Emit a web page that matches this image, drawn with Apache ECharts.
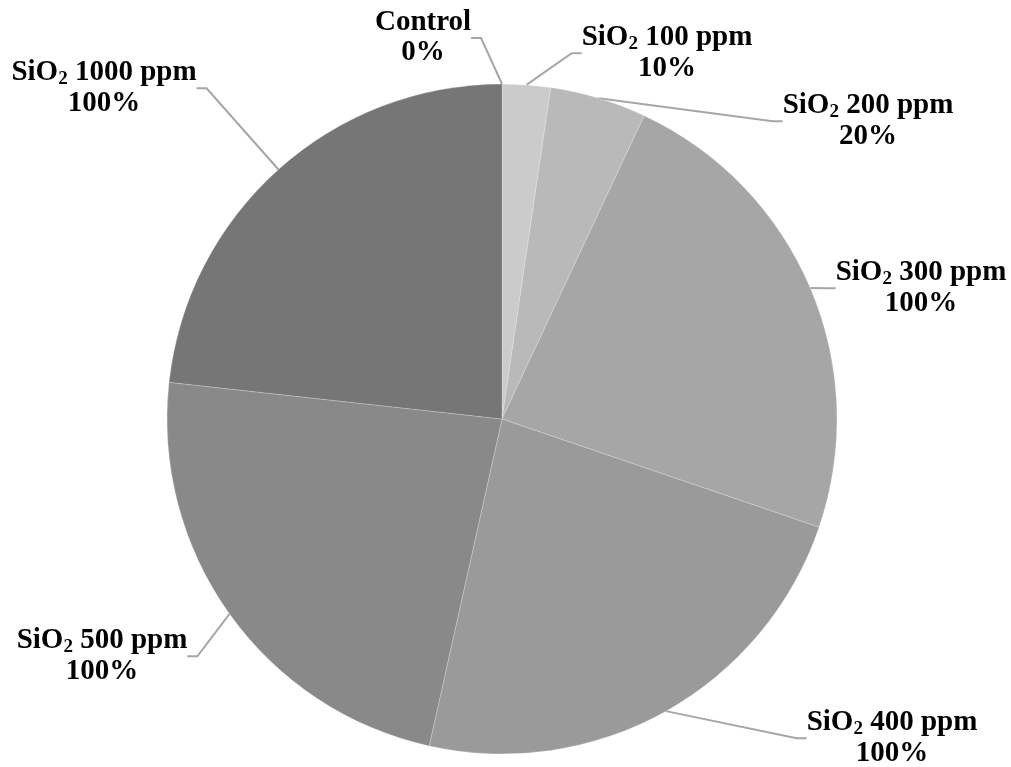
<!DOCTYPE html>
<html>
<head>
<meta charset="utf-8">
<style>
  html, body { margin: 0; padding: 0; background: #fff; }
  #chart { width: 1011px; height: 767px; }
</style>
<script src="https://cdn.jsdelivr.net/npm/echarts@6/dist/echarts.min.js"></script>
</head>
<body>
<div id="chart"></div>
<script>
// Treatments and their share (percent) shown on each slice
const labels = ['Control', 'SiO2 100 ppm', 'SiO2 200 ppm', 'SiO2 300 ppm', 'SiO2 400 ppm', 'SiO2 500 ppm', 'SiO2 1000 ppm'];
const values = [0, 10, 20, 100, 100, 100, 100];
const colors = ['#d9d9d9', '#cbcbcb', '#b9b9b9', '#a6a6a6', '#9a9a9a', '#898989', '#767676'];

// Label block centres (label placement only)
const labelPos = [
  [423, 38], [667, 53], [868, 121], [921, 288], [892, 738], [102, 656], [104, 88]
];

function richName(name) {
  if (name.indexOf('SiO2') === 0) {
    return '{t|SiO}{s|2}{t|' + name.slice(4) + '}';
  }
  return '{t|' + name + '}';
}

const serif = '"Liberation Serif", "Times New Roman", serif';

const chart = echarts.init(document.getElementById('chart'));
chart.setOption({
  animation: false,
  backgroundColor: '#ffffff',
  series: [{
    type: 'pie',
    center: [502, 419],
    radius: [0, 335],
    startAngle: 90,
    clockwise: true,
    avoidLabelOverlap: false,
    stillShowZeroSum: true,
    itemStyle: { borderColor: 'rgba(255,255,255,0.35)', borderWidth: 0.6 },
    label: {
      show: true,
      position: 'outside',
      formatter: function (p) {
        return richName(p.name) + '\n{t|' + p.value + '%}';
      },
      align: 'center',
      rich: {
        t: {
          fontFamily: serif,
          fontWeight: 'bold',
          fontSize: 29,
          lineHeight: 30,
          color: '#000'
        },
        s: {
          fontFamily: serif,
          fontWeight: 'bold',
          fontSize: 19,
          padding: [12, 0, 0, 0],
          color: '#000'
        }
      }
    },
    labelLine: {
      show: true,
      length: 20,
      length2: 10,
      lineStyle: { color: '#a6a6a6', width: 2 }
    },
    labelLayout: function (params) {
      const pos = labelPos[params.dataIndex];
      return { x: pos[0], y: pos[1], align: 'center', verticalAlign: 'middle' };
    },
    emphasis: { disabled: true },
    data: labels.map(function (n, i) {
      return { name: n, value: values[i], itemStyle: { color: colors[i] } };
    })
  }]
});
</script>
</body>
</html>
